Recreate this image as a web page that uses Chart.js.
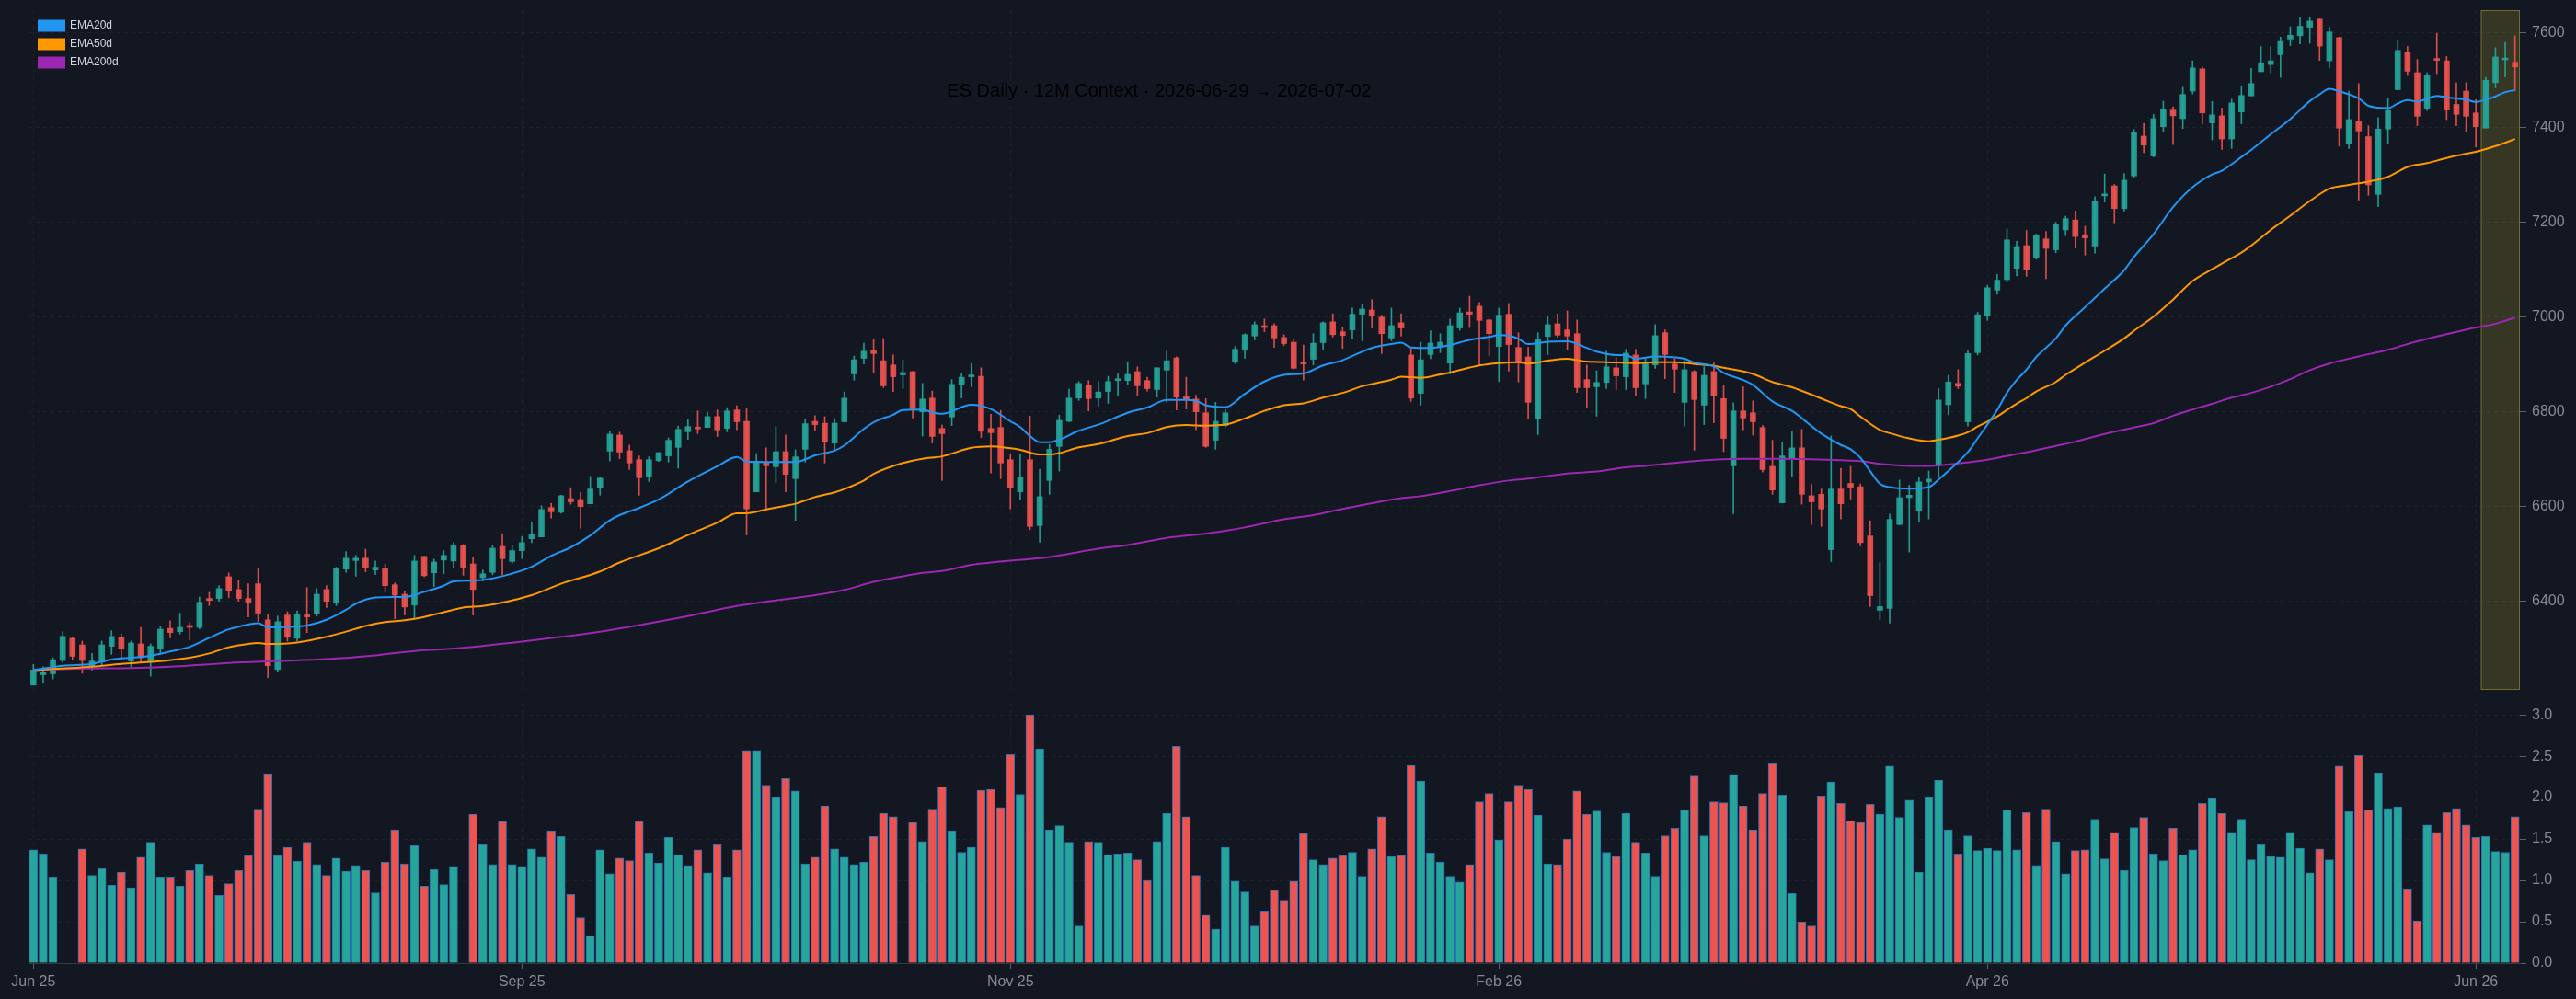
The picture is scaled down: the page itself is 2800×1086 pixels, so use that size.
<!DOCTYPE html>
<html>
<head>
<meta charset="utf-8">
<script src="https://cdn.jsdelivr.net/npm/chart.js@4.4.1/dist/chart.umd.min.js"></script>
<style>
  html, body { margin: 0; padding: 0; background: #131722; }
  #wrap { position: relative; width: 2800px; height: 1086px; background: #131722; }
  canvas { position: absolute; left: 0; display: block; }
  #price { top: 0; }
  #vol { top: 757px; }
</style>
</head>
<body>
<div id="wrap">
  <canvas id="price" width="2800" height="757"></canvas>
  <canvas id="vol" width="2800" height="329"></canvas>
</div>
<script>
// daily bars, index 0 = late Jun 2025 ... 254 = 2026-07-02
const opens = [
  6222, 6244, 6246, 6274, 6321, 6307, 6263, 6271, 6304, 6323,
  6273, 6309, 6273, 6298, 6342, 6335, 6348, 6344, 6405, 6405,
  6451, 6424, 6405, 6436, 6360, 6255, 6370, 6321, 6372, 6372,
  6424, 6395, 6467, 6485, 6490, 6465, 6469, 6434, 6414, 6391,
  6494, 6459, 6486, 6484, 6517, 6478, 6449, 6460, 6515, 6483,
  6506, 6531, 6535, 6597, 6587, 6616, 6614, 6605, 6638, 6716,
  6750, 6717, 6698, 6662, 6696, 6706, 6724, 6757, 6766, 6766,
  6789, 6764, 6803, 6779, 6630, 6693, 6683, 6715, 6658, 6720,
  6779, 6775, 6733, 6778, 6879, 6912, 6929, 6907, 6898, 6877,
  6884, 6799, 6828, 6764, 6788, 6856, 6873, 6874, 6764, 6766,
  6698, 6630, 6698, 6559, 6654, 6726, 6779, 6828, 6855, 6828,
  6842, 6865, 6865, 6884, 6865, 6846, 6887, 6913, 6832, 6826,
  6797, 6739, 6770, 6904, 6929, 6959, 6979, 6981, 6956, 6946,
  6902, 6910, 6945, 6989, 6968, 6972, 7005, 7014, 6999, 6955,
  6987, 6919, 6838, 6920, 6937, 6902, 6976, 7010, 7022, 6993,
  6937, 7005, 6935, 6915, 6784, 6958, 6985, 6972, 6964, 6867,
  6852, 6861, 6892, 6873, 6919, 6858, 6898, 6966, 6900, 6819,
  6884, 6813, 6884, 6827, 6685, 6801, 6797, 6766, 6684, 6607,
  6702, 6723, 6622, 6625, 6508, 6636, 6648, 6641, 6537, 6380,
  6384, 6561, 6618, 6590, 6651, 6688, 6814, 6859, 6778, 6924,
  7003, 7056, 7078, 7102, 7150, 7124, 7164, 7141, 7183, 7204,
  7173, 7149, 7255, 7276, 7228, 7297, 7381, 7339, 7401, 7436,
  7418, 7476, 7523, 7409, 7424, 7375, 7432, 7466, 7517, 7532,
  7553, 7586, 7593, 7611, 7628, 7540, 7589, 7366, 7413, 7380,
  7258, 7396, 7479, 7558, 7515, 7440, 7542, 7540, 7448, 7476,
  7430, 7398, 7494, 7542, 7537
];
const highs = [
  6266, 6261, 6280, 6335, 6322, 6315, 6289, 6315, 6337, 6330,
  6315, 6344, 6309, 6346, 6358, 6374, 6354, 6408, 6418, 6432,
  6459, 6443, 6436, 6469, 6372, 6368, 6377, 6379, 6428, 6426,
  6432, 6471, 6504, 6496, 6509, 6484, 6478, 6438, 6419, 6496,
  6494, 6488, 6506, 6523, 6519, 6492, 6465, 6517, 6542, 6517,
  6536, 6565, 6601, 6606, 6623, 6639, 6629, 6663, 6660, 6758,
  6756, 6729, 6706, 6704, 6713, 6744, 6769, 6783, 6801, 6798,
  6803, 6808, 6812, 6807, 6711, 6723, 6768, 6750, 6719, 6783,
  6791, 6789, 6785, 6841, 6917, 6944, 6952, 6954, 6919, 6909,
  6884, 6859, 6843, 6771, 6867, 6880, 6901, 6892, 6794, 6802,
  6709, 6709, 6790, 6678, 6730, 6792, 6847, 6863, 6865, 6863,
  6874, 6880, 6905, 6894, 6872, 6892, 6929, 6915, 6872, 6834,
  6827, 6819, 6804, 6937, 6964, 6989, 6995, 6985, 6962, 6952,
  6940, 6964, 6989, 7006, 6977, 7018, 7026, 7036, 7003, 7018,
  7006, 6933, 6946, 6970, 6964, 6995, 7018, 7043, 7030, 6995,
  7018, 7028, 6966, 6935, 6966, 7001, 7006, 7012, 6993, 6898,
  6886, 6927, 6913, 6931, 6931, 6911, 6983, 6972, 6911, 6907,
  6886, 6894, 6902, 6854, 6818, 6852, 6822, 6770, 6739, 6735,
  6758, 6762, 6646, 6636, 6748, 6680, 6684, 6647, 6569, 6481,
  6583, 6655, 6644, 6661, 6674, 6848, 6876, 6888, 6928, 7009,
  7066, 7089, 7185, 7159, 7182, 7174, 7180, 7199, 7212, 7223,
  7191, 7253, 7301, 7279, 7302, 7395, 7408, 7427, 7455, 7443,
  7484, 7540, 7527, 7454, 7440, 7459, 7485, 7524, 7570, 7571,
  7590, 7612, 7631, 7631, 7628, 7612, 7590, 7476, 7492, 7403,
  7420, 7461, 7584, 7570, 7543, 7515, 7598, 7549, 7494, 7494,
  7458, 7505, 7568, 7579, 7593
];
const lows = [
  6222, 6227, 6235, 6270, 6276, 6247, 6254, 6264, 6287, 6277,
  6260, 6272, 6241, 6290, 6322, 6330, 6318, 6341, 6390, 6399,
  6407, 6399, 6366, 6357, 6238, 6250, 6315, 6315, 6333, 6368,
  6386, 6390, 6460, 6452, 6461, 6456, 6419, 6362, 6370, 6364,
  6451, 6430, 6457, 6469, 6454, 6370, 6442, 6455, 6455, 6479,
  6489, 6523, 6535, 6575, 6585, 6604, 6553, 6605, 6623, 6695,
  6700, 6677, 6623, 6652, 6694, 6693, 6680, 6741, 6753, 6766,
  6747, 6757, 6761, 6539, 6630, 6594, 6650, 6630, 6570, 6693,
  6759, 6691, 6720, 6778, 6866, 6900, 6881, 6850, 6842, 6848,
  6786, 6748, 6733, 6654, 6770, 6828, 6852, 6745, 6670, 6658,
  6594, 6614, 6550, 6524, 6625, 6674, 6778, 6823, 6801, 6811,
  6817, 6834, 6856, 6834, 6843, 6830, 6819, 6803, 6805, 6761,
  6724, 6720, 6767, 6901, 6912, 6951, 6968, 6935, 6939, 6889,
  6866, 6898, 6929, 6957, 6933, 6953, 6949, 6976, 6922, 6949,
  6959, 6821, 6813, 6911, 6924, 6879, 6971, 6977, 6898, 6917,
  6863, 6885, 6862, 6784, 6751, 6920, 6957, 6931, 6840, 6808,
  6790, 6848, 6846, 6846, 6832, 6827, 6891, 6869, 6840, 6769,
  6718, 6772, 6776, 6715, 6584, 6761, 6750, 6672, 6625, 6607,
  6663, 6604, 6561, 6557, 6483, 6573, 6615, 6516, 6388, 6360,
  6353, 6561, 6503, 6567, 6573, 6661, 6793, 6848, 6769, 6919,
  6992, 7047, 7073, 7086, 7085, 7121, 7080, 7135, 7171, 7145,
  7130, 7134, 7242, 7198, 7223, 7294, 7346, 7337, 7390, 7363,
  7397, 7470, 7407, 7373, 7353, 7355, 7407, 7466, 7517, 7515,
  7505, 7572, 7576, 7577, 7541, 7525, 7360, 7355, 7246, 7256,
  7232, 7365, 7479, 7509, 7403, 7435, 7513, 7416, 7403, 7390,
  7358, 7398, 7483, 7506, 7477
];
const closes = [
  6254, 6249, 6276, 6325, 6283, 6274, 6273, 6307, 6325, 6298,
  6311, 6280, 6304, 6340, 6333, 6344, 6344, 6397, 6401, 6426,
  6422, 6405, 6395, 6374, 6263, 6356, 6323, 6372, 6366, 6414,
  6399, 6469, 6490, 6490, 6471, 6471, 6432, 6412, 6387, 6484,
  6453, 6482, 6496, 6517, 6471, 6424, 6457, 6511, 6489, 6506,
  6523, 6540, 6593, 6588, 6622, 6609, 6599, 6636, 6659, 6752,
  6714, 6691, 6660, 6698, 6713, 6739, 6762, 6768, 6763, 6789,
  6761, 6801, 6778, 6594, 6695, 6685, 6715, 6667, 6704, 6774,
  6772, 6735, 6775, 6828, 6909, 6927, 6922, 6854, 6873, 6882,
  6804, 6826, 6747, 6753, 6857, 6872, 6876, 6758, 6755, 6691,
  6638, 6661, 6557, 6620, 6720, 6781, 6828, 6859, 6827, 6841,
  6863, 6867, 6878, 6854, 6848, 6892, 6907, 6830, 6825, 6799,
  6726, 6779, 6797, 6931, 6962, 6983, 6977, 6955, 6943, 6891,
  6900, 6944, 6987, 6962, 6960, 7005, 7016, 7001, 6964, 6981,
  6976, 6828, 6909, 6944, 6946, 6981, 7008, 7005, 6992, 6964,
  7003, 6941, 6904, 6819, 6952, 6983, 6961, 6959, 6850, 6850,
  6861, 6894, 6875, 6923, 6850, 6902, 6960, 6920, 6889, 6888,
  6825, 6876, 6834, 6743, 6801, 6786, 6778, 6677, 6634, 6706,
  6723, 6625, 6609, 6594, 6636, 6605, 6640, 6523, 6411, 6388,
  6572, 6618, 6623, 6651, 6657, 6824, 6862, 6853, 6922, 7004,
  7061, 7077, 7162, 7148, 7099, 7172, 7144, 7195, 7207, 7169,
  7166, 7243, 7259, 7228, 7288, 7389, 7362, 7418, 7438, 7424,
  7469, 7525, 7430, 7426, 7375, 7451, 7467, 7492, 7536, 7540,
  7581, 7594, 7613, 7624, 7571, 7601, 7398, 7416, 7392, 7278,
  7396, 7435, 7562, 7518, 7423, 7509, 7541, 7436, 7427, 7423,
  7401, 7499, 7548, 7544, 7527
];
// volume (scaled units as on the lower axis); null = no bar
const volumes = [
  1.37, 1.32, 1.04, null, null, 1.38, 1.06, 1.14, 0.94, 1.10,
  0.91, 1.28, 1.46, 1.04, 1.04, 0.93, 1.12, 1.20, 1.06, 0.82,
  0.96, 1.12, 1.30, 1.86, 2.29, 1.30, 1.40, 1.23, 1.46, 1.19,
  1.06, 1.27, 1.11, 1.18, 1.12, 0.85, 1.22, 1.61, 1.20, 1.42,
  0.93, 1.13, 0.95, 1.17, null, 1.80, 1.43, 1.19, 1.71, 1.19,
  1.17, 1.38, 1.28, 1.60, 1.53, 0.83, 0.55, 0.33, 1.37, 1.08,
  1.27, 1.24, 1.71, 1.33, 1.21, 1.52, 1.31, 1.18, 1.37, 1.09,
  1.43, 1.04, 1.37, 2.57, 2.57, 2.15, 2.01, 2.23, 2.08, 1.20,
  1.28, 1.90, 1.38, 1.28, 1.19, 1.22, 1.53, 1.81, 1.77, null,
  1.70, 1.47, 1.86, 2.13, 1.60, 1.34, 1.40, 2.09, 2.10, 1.88,
  2.52, 2.04, 3.00, 2.59, 1.61, 1.66, 1.46, 0.45, 1.47, 1.46,
  1.31, 1.32, 1.33, 1.25, 1.00, 1.47, 1.81, 2.62, 1.77, 1.06,
  0.58, 0.41, 1.40, 0.99, 0.86, 0.45, 0.63, 0.88, 0.76, 0.99,
  1.57, 1.25, 1.19, 1.27, 1.30, 1.34, 1.05, 1.38, 1.77, 1.29,
  1.30, 2.39, 2.20, 1.33, 1.22, 1.05, 0.98, 1.19, 1.95, 2.05,
  1.49, 1.95, 2.15, 2.10, 1.79, 1.20, 1.19, 1.50, 2.08, 1.80,
  1.84, 1.34, 1.29, 1.81, 1.46, 1.33, 1.05, 1.54, 1.63, 1.85,
  2.26, 1.54, 1.95, 1.94, 2.28, 1.90, 1.61, 2.05, 2.42, 2.03,
  0.84, 0.50, 0.45, 2.02, 2.19, 1.93, 1.72, 1.70, 1.92, 1.80,
  2.38, 1.76, 1.97, 1.10, 2.01, 2.21, 1.61, 1.32, 1.54, 1.36,
  1.39, 1.36, 1.85, 1.37, 1.82, 1.18, 1.86, 1.47, 1.08, 1.36,
  1.37, 1.74, 1.26, 1.58, 1.12, 1.64, 1.76, 1.32, 1.24, 1.63,
  1.31, 1.37, 1.93, 1.99, 1.81, 1.58, 1.74, 1.25, 1.43, 1.29,
  1.28, 1.58, 1.39, 1.09, 1.38, 1.25, 2.38, 1.83, 2.51, 1.85,
  2.30, 1.87, 1.89, 0.90, 0.51, 1.67, 1.58, 1.82, 1.87, 1.67,
  1.52, 1.53, 1.35, 1.34, 1.77
];

// EMA lines as [bar index, value]
const ema20 = [
  [0,6254],[3,6263],[6,6267],[8,6276],[10,6280],[12,6284],[14,6293],[16,6303],[18,6322],[20,6340],
  [22,6350],[23,6353],[24,6344],[27,6346],[28,6348],[30,6360],[32,6381],[33,6394],[35,6407],[37,6408],
  [38,6408],[40,6419],[42,6432],[43,6441],[45,6443],[46,6444],[48,6452],[51,6472],[53,6495],[55,6513],
  [57,6538],[59,6570],[60,6581],[62,6596],[64,6614],[65,6626],[67,6652],[70,6684],[72,6704],[73,6694],
  [75,6693],[78,6693],[80,6707],[82,6717],[83,6728],[85,6763],[86,6777],[88,6793],[89,6803],[91,6804],
  [92,6798],[93,6795],[96,6814],[98,6805],[100,6779],[101,6767],[102,6748],[103,6735],[104,6735],[105,6740],
  [107,6759],[109,6772],[112,6797],[114,6808],[116,6824],[118,6824],[119,6822],[120,6813],[122,6809],[124,6837],
  [126,6863],[128,6877],[130,6880],[132,6897],[134,6908],[136,6926],[137,6934],[139,6942],[140,6945],[141,6935],
  [143,6934],[145,6940],[147,6951],[149,6957],[150,6961],[151,6960],[152,6953],[153,6942],[155,6947],[157,6948],
  [159,6934],[160,6926],[162,6919],[163,6919],[164,6911],[166,6916],[168,6914],[169,6911],[170,6903],[172,6895],
  [173,6881],[175,6866],[176,6856],[178,6821],[180,6801],[182,6769],[183,6753],[185,6729],[186,6720],[187,6702],
  [188,6674],[189,6647],[190,6640],[192,6637],[194,6640],[195,6656],[196,6674],[198,6714],[199,6743],[201,6803],
  [202,6839],[203,6866],[204,6888],[205,6915],[207,6954],[208,6981],[210,7020],[212,7059],[214,7098],[215,7126],
  [217,7174],[219,7231],[221,7273],[223,7300],[224,7308],[226,7337],[227,7352],[229,7385],[231,7417],[233,7455],
  [234,7469],[235,7481],[236,7476],[237,7469],[238,7461],[239,7445],[241,7440],[242,7450],[243,7457],[244,7454],
  [245,7460],[246,7466],[247,7463],[249,7458],[250,7453],[251,7458],[252,7465],[253,7474],[254,7478]
];
const ema50 = [
  [0,6254],[6,6261],[9,6267],[12,6271],[16,6280],[18,6289],[20,6302],[22,6309],[23,6311],[24,6309],
  [27,6312],[30,6324],[32,6335],[34,6347],[36,6355],[38,6359],[40,6366],[42,6376],[44,6386],[46,6389],
  [51,6412],[54,6436],[58,6462],[60,6481],[64,6511],[67,6539],[70,6565],[72,6585],[73,6585],[75,6593],
  [77,6601],[78,6605],[80,6619],[82,6629],[83,6636],[85,6654],[86,6668],[89,6691],[91,6700],[93,6705],
  [96,6723],[98,6726],[100,6722],[101,6719],[103,6709],[104,6709],[105,6712],[107,6724],[109,6731],[112,6748],
  [114,6754],[116,6767],[118,6771],[120,6770],[122,6772],[124,6785],[126,6801],[128,6813],[130,6817],[132,6829],
  [134,6839],[136,6853],[139,6867],[140,6873],[142,6871],[144,6878],[145,6882],[148,6897],[150,6902],[152,6904],
  [153,6901],[155,6907],[157,6911],[159,6905],[161,6904],[164,6902],[166,6904],[168,6904],[170,6900],[172,6896],
  [173,6892],[176,6879],[178,6862],[180,6851],[183,6827],[185,6811],[186,6805],[187,6789],[189,6761],[190,6754],
  [192,6743],[194,6737],[195,6740],[197,6749],[198,6756],[199,6768],[201,6789],[202,6803],[203,6816],[204,6828],
  [205,6842],[207,6862],[208,6877],[210,6903],[212,6928],[214,6954],[215,6970],[217,7000],[219,7036],[221,7075],
  [223,7100],[224,7112],[226,7135],[227,7150],[229,7183],[231,7213],[233,7244],[235,7270],[237,7278],[239,7285],
  [241,7295],[243,7316],[245,7324],[247,7335],[249,7344],[250,7348],[252,7360],[254,7375]
];
const ema200 = [
  [0,6254],[5,6257],[10,6258],[15,6262],[20,6269],[25,6273],[30,6277],[35,6285],[40,6296],[42,6298],
  [45,6303],[50,6314],[54,6324],[58,6335],[61,6345],[64,6356],[67,6368],[72,6389],[76,6401],[80,6412],
  [83,6423],[86,6440],[89,6452],[91,6459],[93,6463],[96,6476],[98,6481],[100,6485],[103,6490],[105,6496],
  [109,6510],[112,6518],[116,6533],[120,6542],[122,6548],[124,6555],[128,6572],[131,6581],[134,6594],[137,6606],
  [140,6617],[142,6621],[145,6632],[148,6644],[151,6654],[153,6658],[157,6669],[160,6673],[163,6682],[165,6685],
  [167,6689],[170,6695],[172,6698],[175,6700],[179,6700],[182,6699],[185,6697],[187,6695],[189,6689],[191,6686],
  [193,6685],[195,6686],[197,6690],[199,6695],[201,6702],[203,6710],[205,6718],[207,6727],[209,6736],[211,6747],
  [213,6757],[215,6766],[217,6775],[219,6791],[221,6804],[223,6816],[225,6829],[227,6839],[229,6852],[231,6868],
  [233,6887],[235,6901],[238,6916],[241,6930],[244,6948],[247,6963],[250,6977],[252,6985],[254,6998]
];

const tickIdx = [0, 50, 100, 150, 200, 250];
const tickLabels = ['Jun 25', 'Sep 25', 'Nov 25', 'Feb 26', 'Apr 26', 'Jun 26'];
const priceTicks = [6400, 6600, 6800, 7000, 7200, 7400, 7600];
const volTicks = [0, 0.5, 1.0, 1.5, 2.0, 2.5, 3.0];
const contextRange = [250.5, 254.5]; // 2026-06-29 .. 2026-07-02
const titleText = 'ES Daily \u00b7 12M Context \u00b7 2026-06-29 \u2192 2026-07-02';

const gridColor = 'rgba(255,255,255,0.05)';
const tickColor = '#878a94';
const tickMark = '#5d616c';
const fontFam = '"Liberation Sans", Arial, sans-serif';
const upCol = 'rgba(38,166,154,0.9)';
const downCol = 'rgba(239,83,80,0.9)';

Chart.defaults.font.family = fontFam;

const up = closes.map((c, i) => c >= opens[i]);
const candleColors = up.map(u => u ? upCol : downCol);
const volColors = up.map(u => u ? '#26a69a' : '#ef5350');

const leftLine = {
  id: 'leftLine',
  beforeDatasetsDraw(chart) {
    const {ctx, chartArea} = chart;
    ctx.save();
    ctx.strokeStyle = '#2a2e39';
    ctx.lineWidth = 1;
    ctx.beginPath();
    ctx.moveTo(chartArea.left + 0.5, chartArea.top);
    ctx.lineTo(chartArea.left + 0.5, chartArea.bottom);
    ctx.stroke();
    ctx.restore();
  }
};

const contextBox = {
  id: 'contextBox',
  beforeDatasetsDraw(chart) {
    const {ctx, chartArea} = chart;
    const x = chart.scales.x;
    const x0 = x.getPixelForValue(contextRange[0]);
    const x1 = x.getPixelForValue(contextRange[1]);
    ctx.save();
    ctx.fillStyle = 'rgba(255,235,59,0.15)';
    ctx.fillRect(x0, chartArea.top, x1 - x0, chartArea.bottom - chartArea.top);
    ctx.strokeStyle = 'rgba(255,235,59,0.3)';
    ctx.lineWidth = 1;
    ctx.strokeRect(x0 + 0.5, chartArea.top + 0.5, x1 - x0 - 1, chartArea.bottom - chartArea.top - 1);
    ctx.restore();
  }
};

// legend in the chart area: vertical legends get top = 0, so place it by hand
const legendSpot = {
  id: 'legendSpot',
  beforeDraw(chart) {
    if (chart.legend) {
      chart.legend.left = chart.chartArea.left + 3;
      chart.legend.top = 14;
    }
  }
};

const titlePlugin = {
  id: 'titleText',
  afterDraw(chart) {
    const ctx = chart.ctx;
    ctx.save();
    ctx.font = '20px ' + fontFam;
    ctx.fillStyle = '#000000';
    ctx.textAlign = 'center';
    ctx.textBaseline = 'middle';
    ctx.fillText(titleText, chart.width * 0.45, 99);
    ctx.restore();
  }
};

function xScale(showLabels) {
  return {
    type: 'linear',
    bounds: 'data',
    offset: false,
    min: -0.5,
    max: 254.5,
    afterBuildTicks: s => { s.ticks = tickIdx.map(v => ({value: v})); },
    afterFit: s => {
      s.paddingLeft = 0; s.paddingRight = 0;
      if (showLabels) s.height = 39;
    },
    ticks: {
      display: showLabels,
      autoSkip: false,
      maxRotation: 0,
      color: tickColor,
      font: {size: 16},
      padding: 5,
      callback: v => tickLabels[tickIdx.indexOf(v)]
    },
    grid: {offset: false, color: gridColor, drawTicks: showLabels, tickLength: 6, tickColor: tickMark},
    border: {display: showLabels, color: '#363a45', dash: [4, 4]}
  };
}

function yScale(min, max, ticks, fmt) {
  return {
    position: 'right',
    bounds: 'data',
    min: min,
    max: max,
    afterBuildTicks: s => { s.ticks = ticks.map(v => ({value: v})); },
    afterFit: s => { s.width = 61; s.paddingTop = 0; s.paddingBottom = 0; },
    ticks: {color: tickColor, font: {size: 16}, padding: 6, callback: fmt},
    grid: {color: gridColor, tickLength: 7, tickColor: tickMark},
    border: {display: false, dash: [4, 4]}
  };
}

new Chart(document.getElementById('price'), {
  data: {
    datasets: [
      {type: 'line', label: 'EMA20d', data: ema20.map(p => ({x: p[0], y: p[1]})),
       borderColor: '#2196f3', backgroundColor: '#2196f3', borderWidth: 2, pointRadius: 0,
       cubicInterpolationMode: 'monotone', order: 0},
      {type: 'line', label: 'EMA50d', data: ema50.map(p => ({x: p[0], y: p[1]})),
       borderColor: '#ff9800', backgroundColor: '#ff9800', borderWidth: 2, pointRadius: 0,
       cubicInterpolationMode: 'monotone', order: 0},
      {type: 'line', label: 'EMA200d', data: ema200.map(p => ({x: p[0], y: p[1]})),
       borderColor: '#9c27b0', backgroundColor: '#9c27b0', borderWidth: 2, pointRadius: 0,
       cubicInterpolationMode: 'monotone', order: 0},
      {type: 'bar', label: 'body', data: opens.map((o, i) => ({x: i, y: [o, closes[i]]})),
       backgroundColor: candleColors, barThickness: 6, minBarLength: 2, grouped: false, order: 1},
      {type: 'bar', label: 'wick', data: lows.map((l, i) => ({x: i, y: [l, highs[i]]})),
       backgroundColor: candleColors, barThickness: 1, grouped: false, order: 2}
    ]
  },
  options: {
    responsive: false,
    animation: false,
    events: [],
    layout: {padding: {left: 31, right: 0, top: 11, bottom: 7}},
    scales: {
      x: xScale(false),
      y: yScale(6212, 7647, priceTicks, v => String(v))
    },
    plugins: {
      tooltip: {enabled: false},
      legend: {
        position: 'chartArea',
        align: 'start',
        labels: {
          boxWidth: 28, boxHeight: 11, padding: 8, color: '#d1d4dc', font: {size: 12},
          filter: (item, data) => data.datasets[item.datasetIndex].type === 'line'
        }
      }
    }
  },
  plugins: [leftLine, contextBox, legendSpot, titlePlugin]
});

new Chart(document.getElementById('vol'), {
  type: 'bar',
  data: {
    datasets: [{
      label: 'Volume',
      data: volumes.map((v, i) => ({x: i, y: v})),
      backgroundColor: volColors,
      borderColor: '#2a73b5',
      borderWidth: 1,
      barThickness: 9
    }]
  },
  options: {
    responsive: false,
    animation: false,
    events: [],
    layout: {padding: {left: 31, right: 0, top: 7, bottom: 0}},
    scales: {
      x: xScale(true),
      y: yScale(0, 3.146, volTicks, v => v.toFixed(1))
    },
    plugins: {legend: {display: false}, tooltip: {enabled: false}}
  },
  plugins: [leftLine]
});
</script>
</body>
</html>
